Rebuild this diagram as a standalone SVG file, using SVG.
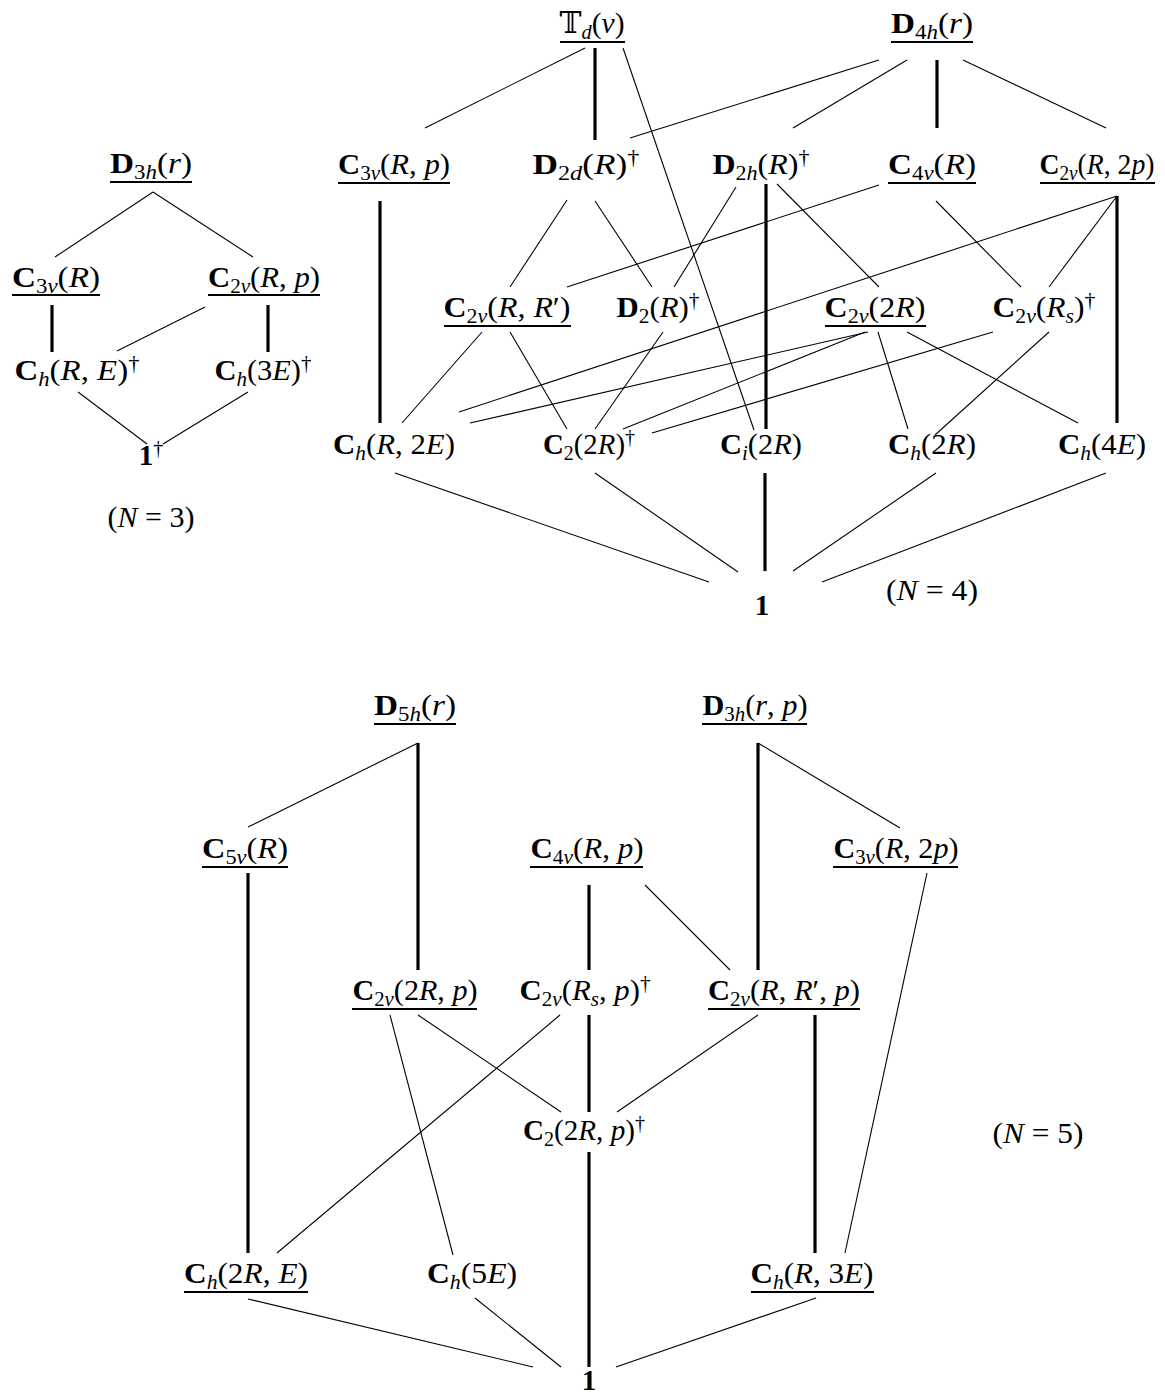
<svg xmlns="http://www.w3.org/2000/svg" width="1165" height="1395" viewBox="0 0 1165 1395">
<style>
.t{font-family:"Liberation Serif","DejaVu Serif",serif;font-size:29px;fill:#000}
.b{font-weight:bold}
.i{font-style:italic}
.s{font-size:20px}
.d{font-size:20px}
.bb{font-family:"DejaVu Serif","DejaVu Sans",serif}
.ul{stroke:#000;stroke-width:2}
.thin{stroke:#000;stroke-width:1.1;fill:none}
.thick{stroke:#000;stroke-width:3.2}
</style>
<rect width="1165" height="1395" fill="#fff"/>

<g id="connectors">
  <!-- N=3 -->
  <line class="thin" x1="153" y1="192" x2="55" y2="257"/>
  <line class="thin" x1="153" y1="192" x2="253" y2="257"/>
  <line class="thick" x1="52" y1="305" x2="52" y2="352"/>
  <line class="thick" x1="268" y1="305" x2="268" y2="352"/>
  <line class="thin" x1="205" y1="307" x2="117" y2="351"/>
  <line class="thin" x1="78" y1="392" x2="147" y2="444"/>
  <line class="thin" x1="248" y1="392" x2="163" y2="444"/>
  <!-- N=4 -->
  <line class="thin" x1="585" y1="48" x2="425" y2="128"/>
  <line class="thin" x1="623" y1="48" x2="754" y2="430"/>
  <line class="thin" x1="879" y1="60" x2="630" y2="138"/>
  <line class="thin" x1="907" y1="60" x2="793" y2="128"/>
  <line class="thin" x1="963" y1="60" x2="1106" y2="128"/>
  <line class="thin" x1="567" y1="200" x2="510" y2="287"/>
  <line class="thin" x1="595" y1="201" x2="652" y2="287"/>
  <line class="thin" x1="736" y1="187" x2="674" y2="287"/>
  <line class="thin" x1="777" y1="184" x2="879" y2="287"/>
  <line class="thin" x1="879" y1="185" x2="567" y2="287"/>
  <line class="thin" x1="936" y1="201" x2="1021" y2="287"/>
  <line class="thin" x1="1117" y1="196" x2="1049" y2="287"/>
  <line class="thin" x1="1117" y1="196" x2="459" y2="412"/>
  <line class="thin" x1="482" y1="332" x2="402" y2="423"/>
  <line class="thin" x1="510" y1="332" x2="567" y2="429"/>
  <line class="thin" x1="663" y1="332" x2="595" y2="429"/>
  <line class="thin" x1="868" y1="332" x2="470" y2="423"/>
  <line class="thin" x1="865" y1="332" x2="623" y2="429"/>
  <line class="thin" x1="993" y1="332" x2="652" y2="433"/>
  <line class="thin" x1="878" y1="332" x2="908" y2="429"/>
  <line class="thin" x1="907" y1="332" x2="1078" y2="423"/>
  <line class="thin" x1="1049" y1="332" x2="935" y2="435"/>
  <line class="thin" x1="395" y1="473" x2="709" y2="582"/>
  <line class="thin" x1="595" y1="473" x2="738" y2="572"/>
  <line class="thin" x1="936" y1="473" x2="793" y2="571"/>
  <line class="thin" x1="1106" y1="473" x2="822" y2="582"/>
  <line class="thick" x1="595" y1="48" x2="595" y2="140"/>
  <line class="thick" x1="937" y1="60" x2="937" y2="128"/>
  <line class="thick" x1="380" y1="201" x2="380" y2="423"/>
  <line class="thick" x1="766" y1="184" x2="766" y2="429"/>
  <line class="thick" x1="1117" y1="196" x2="1117" y2="423"/>
  <line class="thick" x1="765" y1="473" x2="765" y2="571"/>
  <!-- N=5 -->
  <line class="thin" x1="418" y1="743" x2="248" y2="827"/>
  <line class="thin" x1="758" y1="743" x2="900" y2="828"/>
  <line class="thin" x1="645" y1="885" x2="730" y2="970"/>
  <line class="thin" x1="927" y1="873" x2="845" y2="1253"/>
  <line class="thin" x1="390" y1="1015" x2="453" y2="1255"/>
  <line class="thin" x1="418" y1="1015" x2="561" y2="1112"/>
  <line class="thin" x1="560" y1="1015" x2="277" y2="1253"/>
  <line class="thin" x1="758" y1="1015" x2="617" y2="1112"/>
  <line class="thin" x1="248" y1="1299" x2="533" y2="1367"/>
  <line class="thin" x1="475" y1="1298" x2="561" y2="1367"/>
  <line class="thin" x1="816" y1="1298" x2="616" y2="1367"/>
  <line class="thick" x1="418" y1="743" x2="418" y2="970"/>
  <line class="thick" x1="248" y1="873" x2="248" y2="1253"/>
  <line class="thick" x1="589" y1="885" x2="589" y2="970"/>
  <line class="thick" x1="758" y1="743" x2="758" y2="970"/>
  <line class="thick" x1="589" y1="1015" x2="589" y2="1112"/>
  <line class="thick" x1="815" y1="1015" x2="815" y2="1253"/>
  <line class="thick" x1="589" y1="1152" x2="589" y2="1367"/>
</g>

<!-- N=3 nodes -->
<g id="n3-D3h">
  <text class="t" x="151" y="173" text-anchor="middle" textLength="82" lengthAdjust="spacingAndGlyphs"><tspan class="b">D</tspan><tspan class="s" dy="6">3</tspan><tspan class="s i">h</tspan><tspan dy="-6">(</tspan><tspan class="i">r</tspan>)</text>
  <line class="ul" x1="110" y1="182" x2="192" y2="182"/>
</g>
<g id="n3-C3v">
  <text class="t" x="56" y="287" text-anchor="middle" textLength="88" lengthAdjust="spacingAndGlyphs"><tspan class="b">C</tspan><tspan class="s" dy="6">3</tspan><tspan class="s i">v</tspan><tspan dy="-6">(</tspan><tspan class="i">R</tspan>)</text>
  <line class="ul" x1="12" y1="295" x2="100" y2="295"/>
</g>
<g id="n3-C2vRp">
  <text class="t" x="264" y="287" text-anchor="middle" textLength="112" lengthAdjust="spacingAndGlyphs"><tspan class="b">C</tspan><tspan class="s" dy="6">2</tspan><tspan class="s i">v</tspan><tspan dy="-6">(</tspan><tspan class="i">R</tspan>, <tspan class="i">p</tspan>)</text>
  <line class="ul" x1="208" y1="295" x2="320" y2="295"/>
</g>
<g id="n3-ChRE">
  <text class="t" x="77" y="380" text-anchor="middle" textLength="125" lengthAdjust="spacingAndGlyphs"><tspan class="b">C</tspan><tspan class="s i" dy="6">h</tspan><tspan dy="-6">(</tspan><tspan class="i">R</tspan>, <tspan class="i">E</tspan>)<tspan class="d" dy="-10">†</tspan></text>
</g>
<g id="n3-Ch3E">
  <text class="t" x="263" y="380" text-anchor="middle" textLength="97" lengthAdjust="spacingAndGlyphs"><tspan class="b">C</tspan><tspan class="s i" dy="6">h</tspan><tspan dy="-6">(3</tspan><tspan class="i">E</tspan>)<tspan class="d" dy="-10">†</tspan></text>
</g>
<g id="n3-one">
  <text class="t" x="151" y="465" text-anchor="middle"><tspan class="b">1</tspan><tspan class="d" dy="-10">†</tspan></text>
</g>
<g id="n3-label">
  <text class="t" x="151" y="527" text-anchor="middle" textLength="87" lengthAdjust="spacingAndGlyphs">(<tspan class="i">N</tspan> = 3)</text>
</g>

<!-- N=4 nodes -->
<g id="n4-Td">
  <text class="t" x="592" y="33" text-anchor="middle" textLength="65" lengthAdjust="spacingAndGlyphs"><tspan class="bb">𝕋</tspan><tspan class="s i" dy="6">d</tspan><tspan dy="-6">(</tspan><tspan class="i">v</tspan>)</text>
  <line class="ul" x1="560" y1="42" x2="625" y2="42"/>
</g>
<g id="n4-D4h">
  <text class="t" x="932" y="33" text-anchor="middle" textLength="82" lengthAdjust="spacingAndGlyphs"><tspan class="b">D</tspan><tspan class="s" dy="6">4</tspan><tspan class="s i">h</tspan><tspan dy="-6">(</tspan><tspan class="i">r</tspan>)</text>
  <line class="ul" x1="891" y1="42" x2="973" y2="42"/>
</g>
<g id="n4-C3vRp">
  <text class="t" x="394" y="174" text-anchor="middle" textLength="112" lengthAdjust="spacingAndGlyphs"><tspan class="b">C</tspan><tspan class="s" dy="6">3</tspan><tspan class="s i">v</tspan><tspan dy="-6">(</tspan><tspan class="i">R</tspan>, <tspan class="i">p</tspan>)</text>
  <line class="ul" x1="338" y1="183" x2="450" y2="183"/>
</g>
<g id="n4-D2d">
  <text class="t" x="586" y="174" text-anchor="middle" textLength="107" lengthAdjust="spacingAndGlyphs"><tspan class="b">D</tspan><tspan class="s" dy="6">2</tspan><tspan class="s i">d</tspan><tspan dy="-6">(</tspan><tspan class="i">R</tspan>)<tspan class="d" dy="-10">†</tspan></text>
</g>
<g id="n4-D2h">
  <text class="t" x="761" y="174" text-anchor="middle" textLength="97" lengthAdjust="spacingAndGlyphs"><tspan class="b">D</tspan><tspan class="s" dy="6">2</tspan><tspan class="s i">h</tspan><tspan dy="-6">(</tspan><tspan class="i">R</tspan>)<tspan class="d" dy="-10">†</tspan></text>
</g>
<g id="n4-C4v">
  <text class="t" x="932" y="174" text-anchor="middle" textLength="88" lengthAdjust="spacingAndGlyphs"><tspan class="b">C</tspan><tspan class="s" dy="6">4</tspan><tspan class="s i">v</tspan><tspan dy="-6">(</tspan><tspan class="i">R</tspan>)</text>
  <line class="ul" x1="888" y1="183" x2="976" y2="183"/>
</g>
<g id="n4-C2vR2p">
  <text class="t" x="1097" y="174" text-anchor="middle" textLength="115" lengthAdjust="spacingAndGlyphs"><tspan class="b">C</tspan><tspan class="s" dy="6">2</tspan><tspan class="s i">v</tspan><tspan dy="-6">(</tspan><tspan class="i">R</tspan>, 2<tspan class="i">p</tspan>)</text>
  <line class="ul" x1="1040" y1="183" x2="1155" y2="183"/>
</g>
<g id="n4-C2vRRp">
  <text class="t" x="507" y="317" text-anchor="middle" textLength="127" lengthAdjust="spacingAndGlyphs"><tspan class="b">C</tspan><tspan class="s" dy="6">2</tspan><tspan class="s i">v</tspan><tspan dy="-6">(</tspan><tspan class="i">R</tspan>, <tspan class="i">R</tspan>′)</text>
  <line class="ul" x1="444" y1="326" x2="571" y2="326"/>
</g>
<g id="n4-D2">
  <text class="t" x="658" y="317" text-anchor="middle" textLength="83" lengthAdjust="spacingAndGlyphs"><tspan class="b">D</tspan><tspan class="s" dy="6">2</tspan><tspan dy="-6">(</tspan><tspan class="i">R</tspan>)<tspan class="d" dy="-10">†</tspan></text>
</g>
<g id="n4-C2v2R">
  <text class="t" x="875" y="317" text-anchor="middle" textLength="101" lengthAdjust="spacingAndGlyphs"><tspan class="b">C</tspan><tspan class="s" dy="6">2</tspan><tspan class="s i">v</tspan><tspan dy="-6">(2</tspan><tspan class="i">R</tspan>)</text>
  <line class="ul" x1="825" y1="326" x2="926" y2="326"/>
</g>
<g id="n4-C2vRs">
  <text class="t" x="1044" y="317" text-anchor="middle" textLength="103" lengthAdjust="spacingAndGlyphs"><tspan class="b">C</tspan><tspan class="s" dy="6">2</tspan><tspan class="s i">v</tspan><tspan dy="-6">(</tspan><tspan class="i">R</tspan><tspan class="s i" dy="6">s</tspan><tspan dy="-6">)</tspan><tspan class="d" dy="-10">†</tspan></text>
</g>
<g id="n4-ChR2E">
  <text class="t" x="394" y="454" text-anchor="middle" textLength="122" lengthAdjust="spacingAndGlyphs"><tspan class="b">C</tspan><tspan class="s i" dy="6">h</tspan><tspan dy="-6">(</tspan><tspan class="i">R</tspan>, 2<tspan class="i">E</tspan>)</text>
</g>
<g id="n4-C22R">
  <text class="t" x="589" y="454" text-anchor="middle" textLength="92" lengthAdjust="spacingAndGlyphs"><tspan class="b">C</tspan><tspan class="s" dy="6">2</tspan><tspan dy="-6">(2</tspan><tspan class="i">R</tspan>)<tspan class="d" dy="-10">†</tspan></text>
</g>
<g id="n4-Ci2R">
  <text class="t" x="761" y="454" text-anchor="middle" textLength="82" lengthAdjust="spacingAndGlyphs"><tspan class="b">C</tspan><tspan class="s i" dy="6">i</tspan><tspan dy="-6">(2</tspan><tspan class="i">R</tspan>)</text>
</g>
<g id="n4-Ch2R">
  <text class="t" x="932" y="454" text-anchor="middle" textLength="88" lengthAdjust="spacingAndGlyphs"><tspan class="b">C</tspan><tspan class="s i" dy="6">h</tspan><tspan dy="-6">(2</tspan><tspan class="i">R</tspan>)</text>
</g>
<g id="n4-Ch4E">
  <text class="t" x="1102" y="454" text-anchor="middle" textLength="88" lengthAdjust="spacingAndGlyphs"><tspan class="b">C</tspan><tspan class="s i" dy="6">h</tspan><tspan dy="-6">(4</tspan><tspan class="i">E</tspan>)</text>
</g>
<g id="n4-one">
  <text class="t b" x="762" y="615" text-anchor="middle">1</text>
</g>
<g id="n4-label">
  <text class="t" x="932" y="600" text-anchor="middle" textLength="92" lengthAdjust="spacingAndGlyphs">(<tspan class="i">N</tspan> = 4)</text>
</g>

<!-- N=5 nodes -->
<g id="n5-D5h">
  <text class="t" x="415" y="715" text-anchor="middle" textLength="82" lengthAdjust="spacingAndGlyphs"><tspan class="b">D</tspan><tspan class="s" dy="6">5</tspan><tspan class="s i">h</tspan><tspan dy="-6">(</tspan><tspan class="i">r</tspan>)</text>
  <line class="ul" x1="374" y1="724" x2="456" y2="724"/>
</g>
<g id="n5-D3hrp">
  <text class="t" x="755" y="715" text-anchor="middle" textLength="105" lengthAdjust="spacingAndGlyphs"><tspan class="b">D</tspan><tspan class="s" dy="6">3</tspan><tspan class="s i">h</tspan><tspan dy="-6">(</tspan><tspan class="i">r</tspan>, <tspan class="i">p</tspan>)</text>
  <line class="ul" x1="702" y1="724" x2="807" y2="724"/>
</g>
<g id="n5-C5v">
  <text class="t" x="245" y="858" text-anchor="middle" textLength="86" lengthAdjust="spacingAndGlyphs"><tspan class="b">C</tspan><tspan class="s" dy="6">5</tspan><tspan class="s i">v</tspan><tspan dy="-6">(</tspan><tspan class="i">R</tspan>)</text>
  <line class="ul" x1="202" y1="867" x2="288" y2="867"/>
</g>
<g id="n5-C4vRp">
  <text class="t" x="587" y="858" text-anchor="middle" textLength="113" lengthAdjust="spacingAndGlyphs"><tspan class="b">C</tspan><tspan class="s" dy="6">4</tspan><tspan class="s i">v</tspan><tspan dy="-6">(</tspan><tspan class="i">R</tspan>, <tspan class="i">p</tspan>)</text>
  <line class="ul" x1="530" y1="867" x2="643" y2="867"/>
</g>
<g id="n5-C3vR2p">
  <text class="t" x="896" y="858" text-anchor="middle" textLength="125" lengthAdjust="spacingAndGlyphs"><tspan class="b">C</tspan><tspan class="s" dy="6">3</tspan><tspan class="s i">v</tspan><tspan dy="-6">(</tspan><tspan class="i">R</tspan>, 2<tspan class="i">p</tspan>)</text>
  <line class="ul" x1="833" y1="867" x2="958" y2="867"/>
</g>
<g id="n5-C2v2Rp">
  <text class="t" x="415" y="1000" text-anchor="middle" textLength="125" lengthAdjust="spacingAndGlyphs"><tspan class="b">C</tspan><tspan class="s" dy="6">2</tspan><tspan class="s i">v</tspan><tspan dy="-6">(2</tspan><tspan class="i">R</tspan>, <tspan class="i">p</tspan>)</text>
  <line class="ul" x1="352" y1="1009" x2="477" y2="1009"/>
</g>
<g id="n5-C2vRsp">
  <text class="t" x="585" y="1000" text-anchor="middle" textLength="131" lengthAdjust="spacingAndGlyphs"><tspan class="b">C</tspan><tspan class="s" dy="6">2</tspan><tspan class="s i">v</tspan><tspan dy="-6">(</tspan><tspan class="i">R</tspan><tspan class="s i" dy="6">s</tspan><tspan dy="-6">, </tspan><tspan class="i">p</tspan>)<tspan class="d" dy="-10">†</tspan></text>
</g>
<g id="n5-C2vRRp">
  <text class="t" x="784" y="1000" text-anchor="middle" textLength="152" lengthAdjust="spacingAndGlyphs"><tspan class="b">C</tspan><tspan class="s" dy="6">2</tspan><tspan class="s i">v</tspan><tspan dy="-6">(</tspan><tspan class="i">R</tspan>, <tspan class="i">R</tspan>′, <tspan class="i">p</tspan>)</text>
  <line class="ul" x1="708" y1="1009" x2="860" y2="1009"/>
</g>
<g id="n5-C22Rp">
  <text class="t" x="584" y="1140" text-anchor="middle" textLength="122" lengthAdjust="spacingAndGlyphs"><tspan class="b">C</tspan><tspan class="s" dy="6">2</tspan><tspan dy="-6">(2</tspan><tspan class="i">R</tspan>, <tspan class="i">p</tspan>)<tspan class="d" dy="-10">†</tspan></text>
</g>
<g id="n5-label">
  <text class="t" x="1038" y="1143" text-anchor="middle" textLength="91" lengthAdjust="spacingAndGlyphs">(<tspan class="i">N</tspan> = 5)</text>
</g>
<g id="n5-Ch2RE">
  <text class="t" x="246" y="1283" text-anchor="middle" textLength="124" lengthAdjust="spacingAndGlyphs"><tspan class="b">C</tspan><tspan class="s i" dy="6">h</tspan><tspan dy="-6">(2</tspan><tspan class="i">R</tspan>, <tspan class="i">E</tspan>)</text>
  <line class="ul" x1="184" y1="1292" x2="308" y2="1292"/>
</g>
<g id="n5-Ch5E">
  <text class="t" x="472" y="1283" text-anchor="middle" textLength="90" lengthAdjust="spacingAndGlyphs"><tspan class="b">C</tspan><tspan class="s i" dy="6">h</tspan><tspan dy="-6">(5</tspan><tspan class="i">E</tspan>)</text>
</g>
<g id="n5-ChR3E">
  <text class="t" x="812" y="1283" text-anchor="middle" textLength="123" lengthAdjust="spacingAndGlyphs"><tspan class="b">C</tspan><tspan class="s i" dy="6">h</tspan><tspan dy="-6">(</tspan><tspan class="i">R</tspan>, 3<tspan class="i">E</tspan>)</text>
  <line class="ul" x1="751" y1="1292" x2="874" y2="1292"/>
</g>
<g id="n5-one">
  <text class="t b" x="589" y="1390" text-anchor="middle">1</text>
</g>
</svg>
